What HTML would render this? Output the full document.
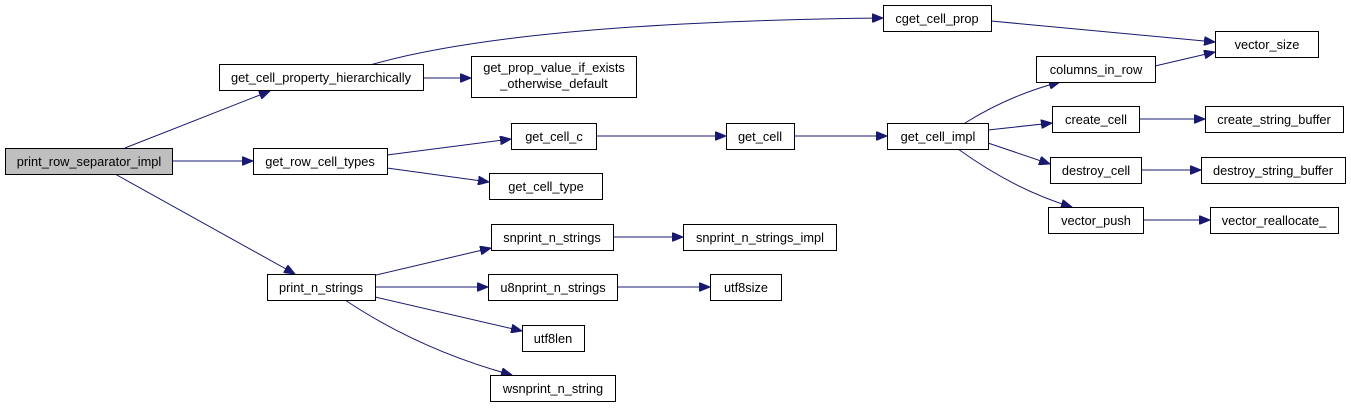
<!DOCTYPE html>
<html><head><meta charset="utf-8"><style>
html,body{margin:0;padding:0;background:#fff;}
svg{display:block;}
text{font-family:"Liberation Sans",Arial,sans-serif;font-size:12.8px;fill:#000;text-anchor:middle;}
rect{fill:#fff;stroke:#000;stroke-width:1;}
.e{fill:none;stroke:#191970;stroke-width:1;}
</style></head><body>
<svg width="1351" height="408" viewBox="0 0 1351 408" xmlns="http://www.w3.org/2000/svg">
<defs><marker id="a" markerWidth="12" markerHeight="9" refX="11" refY="4.5" orient="auto" markerUnits="userSpaceOnUse"><path d="M0,0 L11,4.5 L0,9 z" fill="#191970" stroke="#191970"/></marker></defs>
<g>
<path class="e" marker-end="url(#a)" d="M125,148 L270,91"/>
<path class="e" marker-end="url(#a)" d="M173,161 L253,161"/>
<path class="e" marker-end="url(#a)" d="M115,174 L295,274"/>
<path class="e" marker-end="url(#a)" d="M370,65 Q520,22 883,18"/>
<path class="e" marker-end="url(#a)" d="M424,78 L471,78"/>
<path class="e" marker-end="url(#a)" d="M991,21 L1215,42"/>
<path class="e" marker-end="url(#a)" d="M387,155 L511,139"/>
<path class="e" marker-end="url(#a)" d="M387,168 L489,182"/>
<path class="e" marker-end="url(#a)" d="M596,136 L726,136"/>
<path class="e" marker-end="url(#a)" d="M794,136 L887,136"/>
<path class="e" marker-end="url(#a)" d="M965,123 Q1010,95 1060,82"/>
<path class="e" marker-end="url(#a)" d="M988,130 L1052,123"/>
<path class="e" marker-end="url(#a)" d="M988,143 L1050,164"/>
<path class="e" marker-end="url(#a)" d="M958,149 Q1015,190 1072,207"/>
<path class="e" marker-end="url(#a)" d="M1155,66 L1215,52"/>
<path class="e" marker-end="url(#a)" d="M1139,119 L1205,119"/>
<path class="e" marker-end="url(#a)" d="M1141,170 L1201,170"/>
<path class="e" marker-end="url(#a)" d="M1143,220 L1210,220"/>
<path class="e" marker-end="url(#a)" d="M372,276 L491,248"/>
<path class="e" marker-end="url(#a)" d="M375,287 L488,287"/>
<path class="e" marker-end="url(#a)" d="M375,297 L522,331"/>
<path class="e" marker-end="url(#a)" d="M345,300 Q420,350 512,375"/>
<path class="e" marker-end="url(#a)" d="M613,237 L683,237"/>
<path class="e" marker-end="url(#a)" d="M617,287 L710,287"/>
</g>
<g>
<rect x="5.5" y="148.5" width="167" height="26" style="fill:#bfbfbf"/><text x="89" y="166">print_row_separator_impl</text>
<rect x="219.5" y="64.5" width="204" height="26"/><text x="321" y="82">get_cell_property_hierarchically</text>
<rect x="471.5" y="56.5" width="165" height="41"/><text x="554" y="72">get_prop_value_if_exists</text><text x="554" y="88">_otherwise_default</text>
<rect x="883.5" y="5.5" width="108" height="26"/><text x="937" y="23">cget_cell_prop</text>
<rect x="1215.5" y="31.5" width="103" height="26"/><text x="1267" y="49">vector_size</text>
<rect x="253.5" y="148.5" width="134" height="26"/><text x="320" y="166">get_row_cell_types</text>
<rect x="511.5" y="123.5" width="85" height="26"/><text x="554" y="141">get_cell_c</text>
<rect x="489.5" y="173.5" width="113" height="26"/><text x="546" y="191">get_cell_type</text>
<rect x="726.5" y="123.5" width="68" height="26"/><text x="760" y="141">get_cell</text>
<rect x="887.5" y="123.5" width="101" height="26"/><text x="938" y="141">get_cell_impl</text>
<rect x="1036.5" y="56.5" width="119" height="26"/><text x="1096" y="74">columns_in_row</text>
<rect x="1052.5" y="106.5" width="87" height="26"/><text x="1096" y="124">create_cell</text>
<rect x="1205.5" y="106.5" width="138" height="26"/><text x="1274" y="124">create_string_buffer</text>
<rect x="1050.5" y="157.5" width="91" height="26"/><text x="1096" y="175">destroy_cell</text>
<rect x="1201.5" y="157.5" width="144" height="26"/><text x="1273" y="175">destroy_string_buffer</text>
<rect x="1048.5" y="207.5" width="95" height="26"/><text x="1096" y="225">vector_push</text>
<rect x="1210.5" y="207.5" width="128" height="26"/><text x="1274" y="225">vector_reallocate_</text>
<rect x="267.5" y="274.5" width="108" height="26"/><text x="321" y="292">print_n_strings</text>
<rect x="491.5" y="224.5" width="122" height="26"/><text x="552" y="242">snprint_n_strings</text>
<rect x="683.5" y="224.5" width="153" height="26"/><text x="760" y="242">snprint_n_strings_impl</text>
<rect x="488.5" y="274.5" width="129" height="26"/><text x="553" y="292">u8nprint_n_strings</text>
<rect x="710.5" y="274.5" width="71" height="26"/><text x="746" y="292">utf8size</text>
<rect x="522.5" y="325.5" width="62" height="26"/><text x="553" y="343">utf8len</text>
<rect x="490.5" y="375.5" width="125" height="26"/><text x="553" y="393">wsnprint_n_string</text>
</g>
</svg>
</body></html>
